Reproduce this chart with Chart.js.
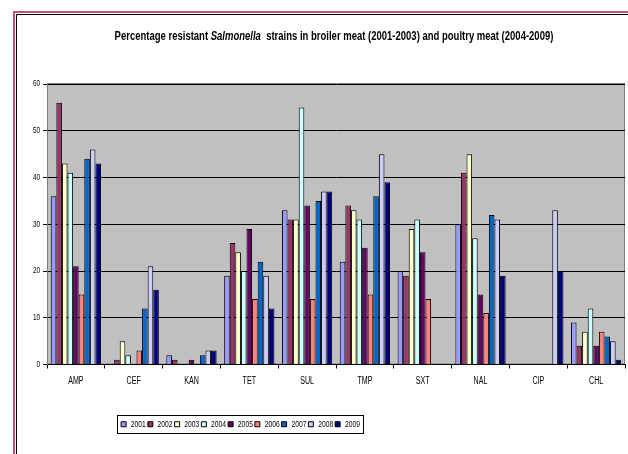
<!DOCTYPE html>
<html>
<head>
<meta charset="utf-8">
<script src="https://cdn.jsdelivr.net/npm/chart.js@4/dist/chart.umd.min.js"></script>
<style>
  html, body { margin: 0; padding: 0; background: #fff; }
  #wrap { width: 628px; height: 454px; }
</style>
</head>
<body>
<div id="wrap"><canvas id="chart" width="628" height="454"></canvas></div>
<script>
// antibiotics on the x axis
const drugs = ["AMP", "CEF", "KAN", "TET", "SUL", "TMP", "SXT", "NAL", "CIP", "CHL"];
const years = ["2001", "2002", "2003", "2004", "2005", "2006", "2007", "2008", "2009"];
const yTicks = [0, 10, 20, 30, 40, 50, 60];

// percentage resistant per year (one value per drug)
const y2001 = [36, 0, 2, 19, 33, 22, 20, 30, null, 9];
const y2002 = [56, 1, 1, 26, 31, 34, 19, 41, null, 4];
const y2003 = [43, 5, 0, 24, 31, 33, 29, 45, null, 7];
const y2004 = [41, 2, 0, 20, 55, 31, 31, 27, null, 12];
const y2005 = [21, 0, 1, 29, 34, 25, 24, 15, null, 4];
const y2006 = [15, 3, 0, 14, 14, 15, 14, 11, null, 7];
const y2007 = [44, 12, 2, 22, 35, 36, null, 32, 0, 6];
const y2008 = [46, 21, 3, 19, 37, 45, null, 31, 33, 5];
const y2009 = [43, 16, 3, 12, 37, 39, null, 19, 20, 1];

const seriesValues = [y2001, y2002, y2003, y2004, y2005, y2006, y2007, y2008, y2009];
const seriesColors = ["#9999FF", "#993366", "#FFFFCC", "#CCFFFF", "#660066",
                      "#FF8080", "#0066CC", "#CCCCFF", "#000080"];

const FONT = "'Liberation Sans', Arial, sans-serif";
// the original picture is squeezed sideways, text included
let squeeze = 0.71;

// page frame, grey plot area, title and legend box
const decor = {
  id: "decor",
  beforeInit(chart) {
    // narrow all text the same way the reference is narrowed
    const ctx = chart.ctx;
    const fill = ctx.fillText.bind(ctx);
    const measure = ctx.measureText.bind(ctx);
    ctx.fillText = (text, x, y) => {
      ctx.save();
      ctx.translate(x, y);
      ctx.scale(squeeze, 1);
      fill(text, 0, 0);
      ctx.restore();
    };
    ctx.measureText = text => {
      const m = measure(text);
      return {
        width: m.width * squeeze,
        actualBoundingBoxAscent: m.actualBoundingBoxAscent,
        actualBoundingBoxDescent: m.actualBoundingBoxDescent
      };
    };
  },
  afterUpdate(chart) {
    // move the legend left of centre, as in the original
    const lg = chart.legend;
    if (!lg || !lg.legendHitBoxes.length) return;
    const hb = lg.legendHitBoxes;
    const l = Math.min(...hb.map(b => b.left));
    const r = Math.max(...hb.map(b => b.left + b.width));
    const dx = Math.round(240 - (l + r) / 2);
    lg.left += dx;
    lg.right += dx;
    hb.forEach(b => { b.left += dx; });
  },
  beforeDraw(chart) {
    const { ctx, chartArea: a, width, height } = chart;
    ctx.save();
    ctx.fillStyle = "#fff";
    ctx.fillRect(0, 0, width, height);
    ctx.strokeStyle = "#C8507C";
    ctx.lineWidth = 2;
    ctx.beginPath();
    ctx.moveTo(14, height); ctx.lineTo(14, 12); ctx.lineTo(width, 12);
    ctx.stroke();
    ctx.strokeStyle = "#000";
    ctx.lineWidth = 1;
    ctx.beginPath();
    ctx.moveTo(16.5, height); ctx.lineTo(16.5, 14.5); ctx.lineTo(width, 14.5);
    ctx.stroke();
    ctx.fillStyle = "#C0C0C0";
    ctx.fillRect(a.left, a.top, a.right - a.left, a.bottom - a.top);
    ctx.strokeStyle = "#808080";
    ctx.strokeRect(a.left + 0.5, a.top - 0.5, a.right - a.left - 1, a.bottom - a.top);
    ctx.restore();
  },
  afterDraw(chart) {
    const ctx = chart.ctx;
    ctx.save();
    // title with italic genus name
    const parts = [
      ["bold 12.5px " + FONT, "Percentage resistant "],
      ["italic bold 12.5px " + FONT, "Salmonella"],
      ["bold 12.5px " + FONT, "  strains in broiler meat (2001-2003) and poultry meat (2004-2009)"]
    ];
    squeeze = 0.76;
    let total = 0;
    parts.forEach(p => { ctx.font = p[0]; total += ctx.measureText(p[1]).width; });
    let x = 334 - total / 2;
    ctx.fillStyle = "#000";
    ctx.textAlign = "left";
    ctx.textBaseline = "middle";
    parts.forEach(p => { ctx.font = p[0]; ctx.fillText(p[1], x, 37); x += ctx.measureText(p[1]).width; });
    squeeze = 0.71;
    // legend frame
    const lg = chart.legend;
    const hb = lg.legendHitBoxes;
    const l = Math.min(...hb.map(b => b.left));
    const r = Math.max(...hb.map(b => b.left + b.width));
    const cy = Math.round(lg.top + lg.options.labels.padding + lg.options.labels.font.size / 2);
    ctx.strokeStyle = "#000";
    ctx.lineWidth = 1;
    ctx.strokeRect(Math.round(l) - 3.5, cy - 8.5, Math.round(r - l) + 7, 18);
    ctx.restore();
  }
};

new Chart(document.getElementById("chart"), {
  type: "bar",
  data: {
    labels: drugs,
    datasets: years.map((yr, i) => ({
      label: yr,
      data: seriesValues[i],
      backgroundColor: seriesColors[i],
      borderColor: "#000",
      borderWidth: 1,
      categoryPercentage: 0.87,
      barPercentage: 1
    }))
  },
  options: {
    responsive: false,
    animation: false,
    layout: { padding: { top: 84, right: 3, left: 0, bottom: 15 } },
    plugins: {
      title: { display: false },
      tooltip: { enabled: false },
      legend: {
        position: "bottom",
        labels: {
          boxWidth: 5,
          boxHeight: 5,
          padding: 2,
          color: "#000",
          font: { family: FONT, size: 9.5 }
        }
      }
    },
    scales: {
      x: {
        grid: { drawOnChartArea: false, drawTicks: true, tickLength: 4, color: "#000" },
        border: { color: "#000" },
        ticks: { color: "#000", padding: 7, font: { family: FONT, size: 10 } },
        afterFit: s => { s.height = 53; }
      },
      y: {
        min: 0,
        max: 60,
        afterBuildTicks: s => { s.ticks = yTicks.map(v => ({ value: v })); },
        grid: { color: "#000", tickLength: 4 },
        border: { color: "#808080" },
        ticks: { color: "#000", padding: 3, font: { family: FONT, size: 9 } },
        afterFit: s => { s.width = 47; }
      }
    }
  },
  plugins: [decor]
});
</script>
</body>
</html>
